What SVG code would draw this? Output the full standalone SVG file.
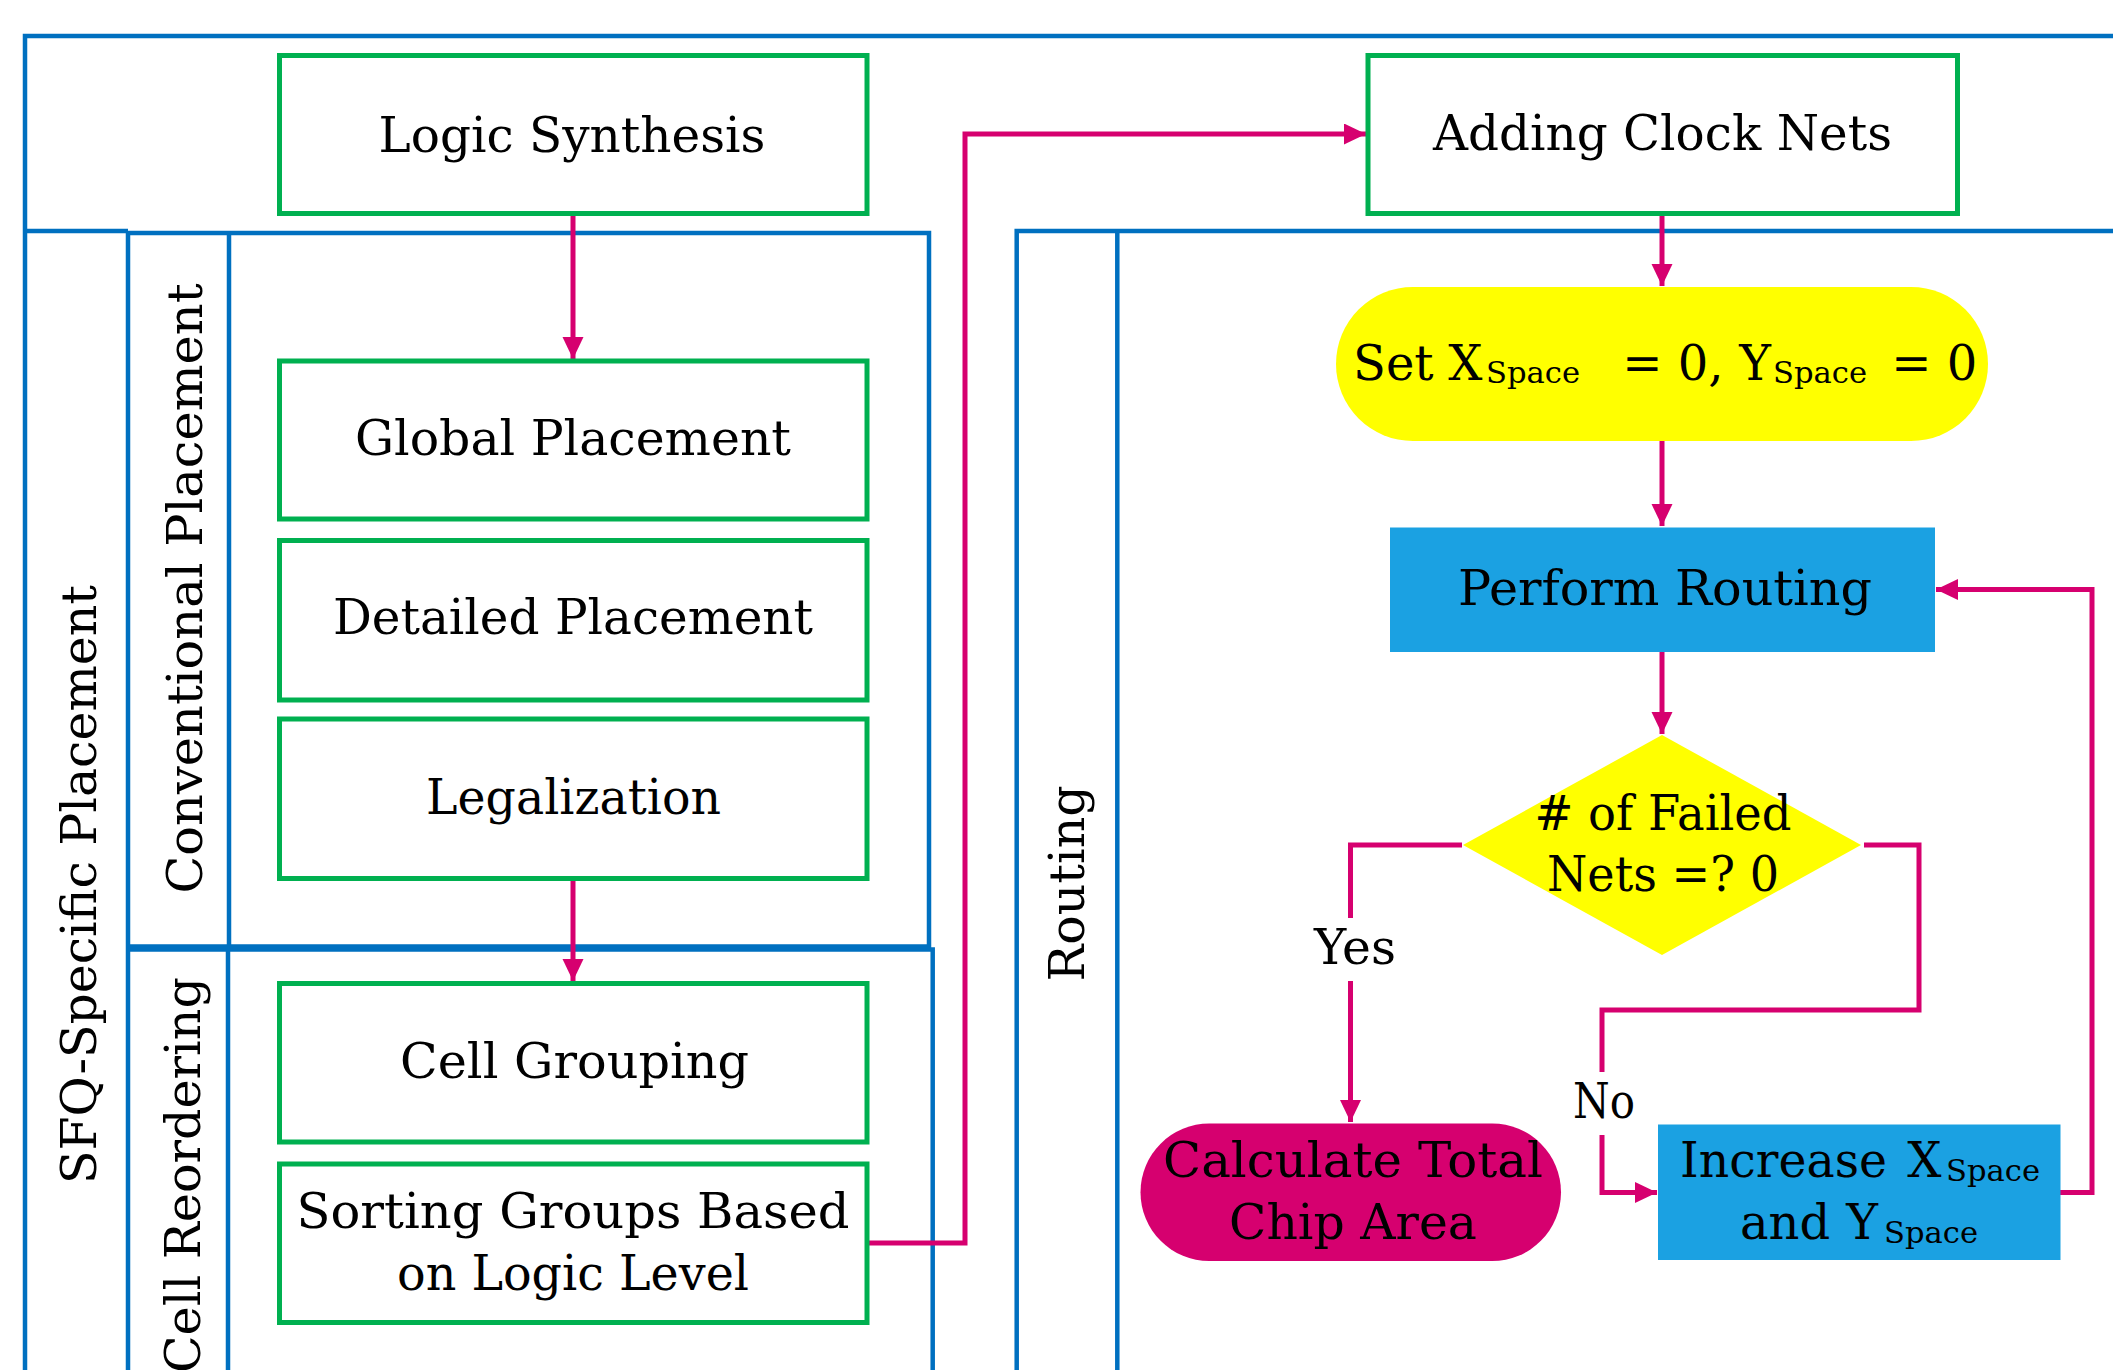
<svg xmlns="http://www.w3.org/2000/svg" width="2113" height="1370" viewBox="0 0 2113 1370">
<defs>
<style>
.lane{fill:none;stroke:#0070C0;stroke-width:4.5}
.box{fill:#FFFFFF;stroke:#00B050;stroke-width:5}
.conn{fill:none;stroke:#D6006F;stroke-width:5;marker-end:url(#ah)}
.t{font-family:"DejaVu Serif","Liberation Serif",serif;font-size:48px;fill:#000000}
.c{text-anchor:middle}
.sub{font-size:30px}
</style>
<marker id="ah" markerUnits="userSpaceOnUse" markerWidth="24" markerHeight="22" refX="22" refY="10.5" orient="auto">
<path d="M0,0 L22,10.5 L0,21 Z" fill="#D6006F"/>
</marker>
</defs>
<rect width="2113" height="1370" fill="#FFFFFF"/>
<g id="lanes">
<path class="lane" d="M25,1375 V36 H2115"/>
<path class="lane" d="M25,231 H128"/>
<path class="lane" d="M128,1375 V233 H929 V946.5 H128"/>
<path class="lane" d="M229,233 V946.5"/>
<path class="lane" d="M128,949.5 H932.7 V1375"/>
<path class="lane" d="M228,949.5 V1375"/>
<path class="lane" d="M1016.7,1375 V231 H2115"/>
<path class="lane" d="M1117.3,231 V1375"/>
<text class="t c" transform="translate(96,884.5) rotate(-90)" textLength="599" lengthAdjust="spacingAndGlyphs">SFQ-Specific Placement</text>
<text class="t c" transform="translate(202,588.5) rotate(-90)" textLength="610" lengthAdjust="spacingAndGlyphs">Conventional Placement</text>
<text class="t" text-anchor="end" transform="translate(200,977) rotate(-90)" textLength="396" lengthAdjust="spacingAndGlyphs">Cell Reordering</text>
<text class="t c" transform="translate(1083.5,883.5) rotate(-90)" textLength="196" lengthAdjust="spacingAndGlyphs">Routing</text>
</g>
<g id="connectors">
<path class="conn" d="M573,213 V359"/>
<path class="conn" d="M573,879 V981"/>
<path class="conn" d="M867,1243 H965 V134 H1366"/>
<path class="conn" d="M1662,213 V286"/>
<path class="conn" d="M1662,441 V526"/>
<path class="conn" d="M1662,652 V734"/>
<path class="conn" d="M1462,845 H1350.5 V918 M1350.5,981 V1122"/>
<path class="conn" d="M1864,845 H1919 V1010 H1602 V1072 M1602,1135 V1192.5 H1657"/>
<path class="conn" d="M2060,1192.5 H2092 V589.5 H1936"/>
<text class="t c" x="1355" y="964" textLength="82" lengthAdjust="spacingAndGlyphs">Yes</text>
<text class="t c" x="1604" y="1118" textLength="62" lengthAdjust="spacingAndGlyphs">No</text>
</g>
<g id="logic-synthesis">
<rect class="box" x="279.5" y="55.5" width="587.5" height="158"/>
<text class="t c" x="572" y="152" textLength="387" lengthAdjust="spacingAndGlyphs">Logic Synthesis</text>
</g>
<g id="global-placement">
<rect class="box" x="279.5" y="361" width="587.5" height="158"/>
<text class="t c" x="573" y="455" textLength="436" lengthAdjust="spacingAndGlyphs">Global Placement</text>
</g>
<g id="detailed-placement">
<rect class="box" x="279.5" y="540.5" width="587.5" height="159.5"/>
<text class="t c" x="573" y="634" textLength="480" lengthAdjust="spacingAndGlyphs">Detailed Placement</text>
</g>
<g id="legalization">
<rect class="box" x="279.5" y="719" width="587.5" height="159.5"/>
<text class="t c" x="573.5" y="814" textLength="295" lengthAdjust="spacingAndGlyphs">Legalization</text>
</g>
<g id="cell-grouping">
<rect class="box" x="279.5" y="983.5" width="587.5" height="158.5"/>
<text class="t c" x="574.5" y="1078" textLength="349" lengthAdjust="spacingAndGlyphs">Cell Grouping</text>
</g>
<g id="sorting-groups">
<rect class="box" x="279.5" y="1164" width="587.5" height="158.5"/>
<text class="t c" x="573" y="1228" textLength="553" lengthAdjust="spacingAndGlyphs">Sorting Groups Based</text>
<text class="t c" x="573" y="1289.5" textLength="352" lengthAdjust="spacingAndGlyphs">on Logic Level</text>
</g>
<g id="adding-clock-nets">
<rect class="box" x="1368" y="55.5" width="589.5" height="158"/>
<text class="t c" x="1662.5" y="150" textLength="459" lengthAdjust="spacingAndGlyphs">Adding Clock Nets</text>
</g>
<g id="set-space">
<rect x="1336" y="287" width="652" height="154" rx="77" ry="77" fill="#FFFF00"/>
<text class="t" y="379.5"><tspan x="1353">Set</tspan><tspan x="1433"> X</tspan><tspan class="sub" x="1486" y="382.5" textLength="94" lengthAdjust="spacingAndGlyphs">Space</tspan><tspan x="1607" y="379.5"> = 0,</tspan><tspan x="1724"> Y</tspan><tspan class="sub" x="1773" y="382.5" textLength="94" lengthAdjust="spacingAndGlyphs">Space</tspan><tspan x="1876" y="379.5"> = 0</tspan></text>
</g>
<g id="perform-routing">
<rect x="1390" y="527.5" width="545" height="124.5" fill="#1BA1E2"/>
<text class="t c" x="1665" y="605" textLength="414" lengthAdjust="spacingAndGlyphs">Perform Routing</text>
</g>
<g id="failed-nets">
<polygon points="1662,735 1861,845 1662,955 1463,845" fill="#FFFF00"/>
<text class="t c" x="1663" y="830" textLength="257" lengthAdjust="spacingAndGlyphs"># of Failed</text>
<text class="t c" x="1663" y="891" textLength="232" lengthAdjust="spacingAndGlyphs">Nets =? 0</text>
</g>
<g id="calculate-area">
<rect x="1140.5" y="1123.5" width="420.5" height="137.5" rx="68.75" ry="68.75" fill="#D6006F"/>
<text class="t c" x="1353" y="1177" textLength="380" lengthAdjust="spacingAndGlyphs">Calculate Total</text>
<text class="t c" x="1353" y="1239" textLength="248" lengthAdjust="spacingAndGlyphs">Chip Area</text>
</g>
<g id="increase-space">
<rect x="1658" y="1124.5" width="402.5" height="135.5" fill="#1BA1E2"/>
<text class="t" y="1177"><tspan x="1680" textLength="207" lengthAdjust="spacingAndGlyphs">Increase</tspan><tspan x="1892"> X</tspan><tspan class="sub" x="1946" y="1181" textLength="94" lengthAdjust="spacingAndGlyphs">Space</tspan></text>
<text class="t" y="1239"><tspan x="1740">and</tspan><tspan x="1831"> Y</tspan><tspan class="sub" x="1884" y="1243" textLength="94" lengthAdjust="spacingAndGlyphs">Space</tspan></text>
</g>
</svg>
